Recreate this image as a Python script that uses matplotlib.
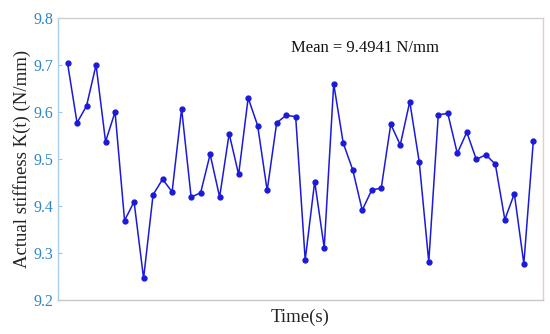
import matplotlib
matplotlib.use("Agg")
import matplotlib.pyplot as plt
import numpy as np

stiffness = [9.704, 9.577, 9.613, 9.700, 9.537, 9.600, 9.369, 9.409, 9.246, 9.424,
             9.457, 9.430, 9.607, 9.419, 9.428, 9.510, 9.419, 9.554, 9.467, 9.630,
             9.571, 9.433, 9.577, 9.593, 9.590, 9.285, 9.452, 9.311, 9.660, 9.534,
             9.477, 9.391, 9.434, 9.438, 9.574, 9.530, 9.622, 9.493, 9.281, 9.594,
             9.597, 9.512, 9.557, 9.499, 9.509, 9.489, 9.371, 9.426, 9.277, 9.539]
time_idx = list(range(1, len(stiffness) + 1))
yticks = [9.2, 9.3, 9.4, 9.5, 9.6, 9.7, 9.8]
mean_text = "Mean = 9.4941 N/mm"

plt.rcParams['font.family'] = ['Liberation Serif', 'DejaVu Serif']

fig = plt.figure(figsize=(5.5, 3.34), dpi=100)
ax = fig.add_axes([0.1055, 0.102, 0.8815, 0.844])
ax.plot(time_idx, stiffness, color='#1a1ad8', lw=1.1, marker='o', ms=3.5)
ax.set_xlim(0, 51)
ax.set_ylim(9.2, 9.8)
ax.set_yticks(yticks)
ax.set_yticklabels([f"{v:.1f}" for v in yticks])
ax.set_xticks([])
ax.tick_params(axis='y', direction='in', length=3, colors='#9cc8ea', labelcolor='#2f86c8', labelsize=11.5)
ax.spines['left'].set_color('#a8d0ee')
ax.spines['bottom'].set_color('#c8c8c8')
ax.spines['top'].set_color('#d0d0d0')
ax.spines['right'].set_color('#f4c8b8')
for s in ax.spines.values():
    s.set_linewidth(1.0)
ax.set_ylabel("Actual stiffness K(t) (N/mm)", fontsize=13.5, color='#222222', labelpad=2)
ax.set_xlabel("Time(s)", fontsize=13.5, color='#222222', labelpad=6)
ax.text(32.3, 9.737, mean_text, fontsize=12, ha='center', va='center', color='#111111')
fig.savefig("out.png", dpi=100)
